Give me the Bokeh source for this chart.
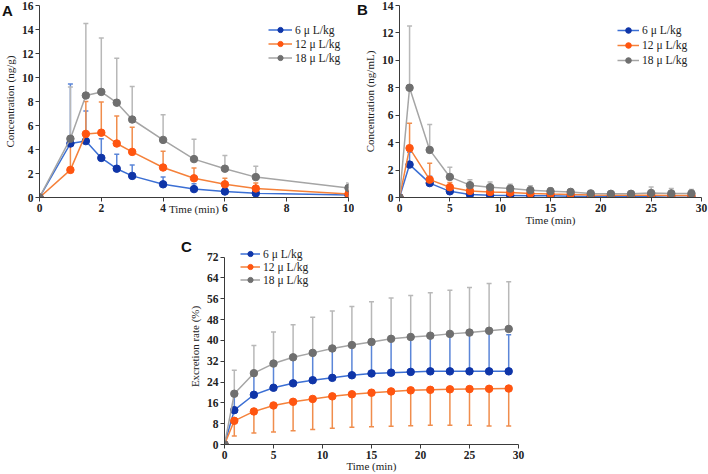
from bokeh.plotting import figure
from bokeh.models import (Range1d, Legend, LegendItem, Whisker, ColumnDataSource,
                          TeeHead, FixedTicker, GridBox, Div)
from bokeh.embed import file_html
from bokeh.resources import INLINE

# ---- data -------------------------------------------------------------
doses = ["6 \u03bc L/kg", "12 \u03bc L/kg", "18 \u03bc L/kg"]

# A: tissue concentration (ng/g), mean and SD
a_time = [0, 1, 1.5, 2, 2.5, 3, 4, 5, 6, 7, 10]
a_6 = [0, 4.5, 4.7, 3.3, 2.4, 1.8, 1.1, 0.7, 0.5, 0.35, 0.2]
a_6_sd = [0, 4.95, 2.5, 1.6, 1.2, 0.9, 0.6, 0.45, 0.3, 0.15, 0.1]
a_12 = [0, 2.3, 5.3, 5.4, 4.5, 3.8, 2.5, 1.6, 1.1, 0.75, 0.3]
a_12_sd = [0, 2.2, 2.7, 2.55, 2.3, 2.05, 1.35, 0.85, 0.5, 0.45, 0.15]
a_18 = [0, 4.9, 8.5, 8.8, 7.9, 6.5, 4.8, 3.2, 2.4, 1.7, 0.8]
a_18_sd = [0, 4.3, 6.0, 4.5, 3.7, 2.75, 2.1, 1.65, 1.1, 0.9, 0.4]

# B: plasma concentration (ng/mL), mean and SD
b_time = [0, 1, 3, 5, 7, 9, 11, 13, 15, 17, 19, 21, 23, 25, 27, 29]
b_6 = [0, 2.4, 1.05, 0.45, 0.22, 0.17, 0.15, 0.13, 0.12, 0.1, 0.08, 0.07, 0.06, 0.05, 0.02, 0.01]
b_6_sd = [0, 0.9, 0.5, 0.25, 0.1, 0.08, 0.07, 0.06, 0.05, 0.05, 0.04, 0.04, 0.03, 0.03, 0.02, 0.02]
b_12 = [0, 3.6, 1.3, 0.75, 0.48, 0.4, 0.36, 0.3, 0.25, 0.22, 0.18, 0.17, 0.17, 0.17, 0.15, 0.14]
b_12_sd = [0, 1.82, 1.2, 0.35, 0.15, 0.12, 0.1, 0.08, 0.07, 0.06, 0.05, 0.05, 0.05, 0.05, 0.05, 0.05]
b_18 = [0, 8.0, 3.47, 1.5, 0.9, 0.75, 0.65, 0.53, 0.46, 0.41, 0.3, 0.27, 0.27, 0.33, 0.3, 0.3]
b_18_sd = [0, 4.5, 1.86, 0.7, 0.4, 0.38, 0.31, 0.32, 0.26, 0.19, 0.1, 0.13, 0.18, 0.44, 0.35, 0.28]

# C: cumulative excretion rate (%), mean and SD
c_time = [0, 1, 3, 5, 7, 9, 11, 13, 15, 17, 19, 21, 23, 25, 27, 29]
c_6 = [0, 13.2, 19.1, 21.8, 23.5, 24.7, 25.6, 26.6, 27.3, 27.6, 27.9, 28.1, 28.1, 28.1, 28.1, 28.1]
c_6_sd = [0, 6.0, 8.0, 8.8, 9.6, 10.4, 10.9, 11.2, 11.7, 12.4, 13.1, 13.4, 13.9, 14.2, 14.5, 14.1]
c_12 = [0, 9.1, 12.7, 15.0, 16.4, 17.5, 18.5, 19.3, 19.9, 20.4, 20.8, 21.0, 21.2, 21.3, 21.4, 21.5]
c_12_sd = [0, 5.8, 8.3, 10.2, 11.1, 11.7, 12.3, 12.7, 13.1, 13.4, 13.6, 13.65, 13.85, 13.95, 14.3, 14.4]
c_18 = [0, 19.5, 27.4, 31.1, 33.5, 35.2, 36.9, 38.2, 39.4, 40.6, 41.3, 41.8, 42.5, 43.0, 43.7, 44.4]
c_18_sd = [0, 9.0, 10.6, 12.1, 12.5, 13.7, 14.4, 14.8, 15.4, 15.7, 15.9, 16.5, 16.8, 17.3, 18.2, 18.1]

a_xticks = [0, 2, 4, 6, 8, 10]
a_yticks = [0, 2, 4, 6, 8, 10, 12, 14, 16]
b_xticks = [0, 5, 10, 15, 20, 25, 30]
b_yticks = [0, 2, 4, 6, 8, 10, 12, 14]
c_xticks = [0, 5, 10, 15, 20, 25, 30]
c_yticks = [0, 8, 16, 24, 32, 40, 48, 56, 64, 72]

# ---- styling ----------------------------------------------------------
SERIF = "Liberation Serif"
SANS = "Liberation Sans"
STYLES = [
    dict(marker="#0f35a8", line="#3b6fd4", err="#5b86d8"),
    dict(marker="#ff5510", line="#f5813a", err="#f08d4c"),
    dict(marker="#6f6f6f", line="#a5a5a5", err="#b8b8b8"),
]


def make_panel(width, height, borders, x_end, y_end, y_view, xticks, yticks, ylabel,
               xlabel_standoff, series, legend_loc, legend_rows, err_down=()):
    left, right, top, bottom = borders
    p = figure(width=width, height=height, output_backend="svg", toolbar_location=None,
               x_range=Range1d(0, x_end), y_range=Range1d(0, y_view),
               min_border_left=left, min_border_right=right,
               min_border_top=top, min_border_bottom=bottom)
    p.xgrid.visible = False
    p.ygrid.visible = False
    p.outline_line_color = None
    p.background_fill_color = "white"

    for ax, ticks in ((p.xaxis, xticks), (p.yaxis, yticks)):
        ax.ticker = FixedTicker(ticks=ticks, minor_ticks=[])
        ax.axis_line_color = "#3a3a3a"
        ax.major_tick_line_color = "#3a3a3a"
        ax.major_tick_out = 4
        ax.major_tick_in = 0
        ax.minor_tick_line_color = None
        ax.major_label_text_font = SERIF
        ax.major_label_text_font_style = "bold"
        ax.major_label_text_font_size = "11.5px"
        ax.major_label_text_color = "#222222"
        ax.major_label_standoff = 2
        ax.axis_label_text_font = SERIF
        ax.axis_label_text_font_style = "normal"
        ax.axis_label_text_font_size = "11px"
        ax.axis_label_text_color = "#222222"
    p.yaxis.bounds = (0, y_end)

    p.xaxis.axis_label = "Time (min)"
    p.xaxis.axis_label_standoff = xlabel_standoff
    p.yaxis.axis_label = ylabel
    p.yaxis.axis_label_standoff = 3

    items = []
    for idx, ((t, m, sd), st, name) in enumerate(zip(series, STYLES, doses)):
        if idx in err_down:
            src = ColumnDataSource(dict(x=t, mean=m, lo=[a - b for a, b in zip(m, sd)]))
            w = Whisker(source=src, base="x", upper="mean", lower="lo", dimension="height",
                        line_color=st["err"], line_width=1.5, upper_head=None,
                        lower_head=TeeHead(size=5, line_color=st["err"], line_width=1.5))
        else:
            src = ColumnDataSource(dict(x=t, mean=m, hi=[a + b for a, b in zip(m, sd)]))
            w = Whisker(source=src, base="x", upper="hi", lower="mean", dimension="height",
                        line_color=st["err"], line_width=1.5, lower_head=None,
                        upper_head=TeeHead(size=5, line_color=st["err"], line_width=1.5))
        p.add_layout(w)
        ln = p.line(t, m, line_color=st["line"], line_width=1.5)
        sc = p.scatter(t, m, size=7.5, fill_color=st["marker"], line_color=st["marker"])
        items.append(LegendItem(label=name, renderers=[ln, sc]))

    gw, gh, sp = legend_rows
    leg = Legend(items=items, location=legend_loc, orientation="vertical",
                 border_line_alpha=0, background_fill_alpha=0,
                 padding=0, margin=0, spacing=sp,
                 glyph_width=gw, glyph_height=gh, label_height=gh,
                 label_standoff=3, label_text_font=SERIF,
                 label_text_font_size="11.5px", label_text_color="#222222")
    p.add_layout(leg)
    return p


def panel_letter(text, pad_left, pad_top):
    return Div(text=text, width=24, height=30, margin=0,
               styles={"font-family": SANS, "font-weight": "bold", "font-size": "15px",
                       "line-height": "17px", "color": "#111111",
                       "padding-left": f"{pad_left}px", "padding-top": f"{pad_top}px",
                       "position": "relative", "z-index": "10",
                       "pointer-events": "none"})


pa = make_panel(354, 228, (39, 6, 5, 28), 10, 16, 16, a_xticks, a_yticks,
                "Concentration (ng/g)", -12,
                [(a_time, a_6, a_6_sd), (a_time, a_12, a_12_sd), (a_time, a_18, a_18_sd)],
                (229, 133), (24, 13, 1))

pb = make_panel(354, 228, (45, 7, 5, 29), 30, 14, 14, b_xticks, b_yticks,
                "Concentration (ng/mL)", -1,
                [(b_time, b_6, b_6_sd), (b_time, b_12, b_12_sd), (b_time, b_18, b_18_sd)],
                (218, 130), (22, 14, 1))

pc = make_panel(360, 246, (44, 22, 20, 28), 30, 72, 75.3, c_xticks, c_yticks,
                "Excretion rate (%)", -2,
                [(c_time, c_6, c_6_sd), (c_time, c_12, c_12_sd), (c_time, c_18, c_18_sd)],
                (16, 158), (20, 13, 0), err_down=(1,))

page = GridBox(
    children=[
        (pa, 0, 0, 1, 2),
        (pb, 0, 2, 1, 2),
        (pc, 1, 1, 1, 2),
        (panel_letter("A", 2, 2), 0, 0),
        (panel_letter("B", 3, 1), 0, 2),
        (panel_letter("C", 1, 10), 1, 1),
    ],
    cols=["180px", "174px", "186px", "168px"],
    rows=["228px", "246px"],
    width=708, height=474,
)

open("out.html", "w").write(file_html(page, INLINE))
